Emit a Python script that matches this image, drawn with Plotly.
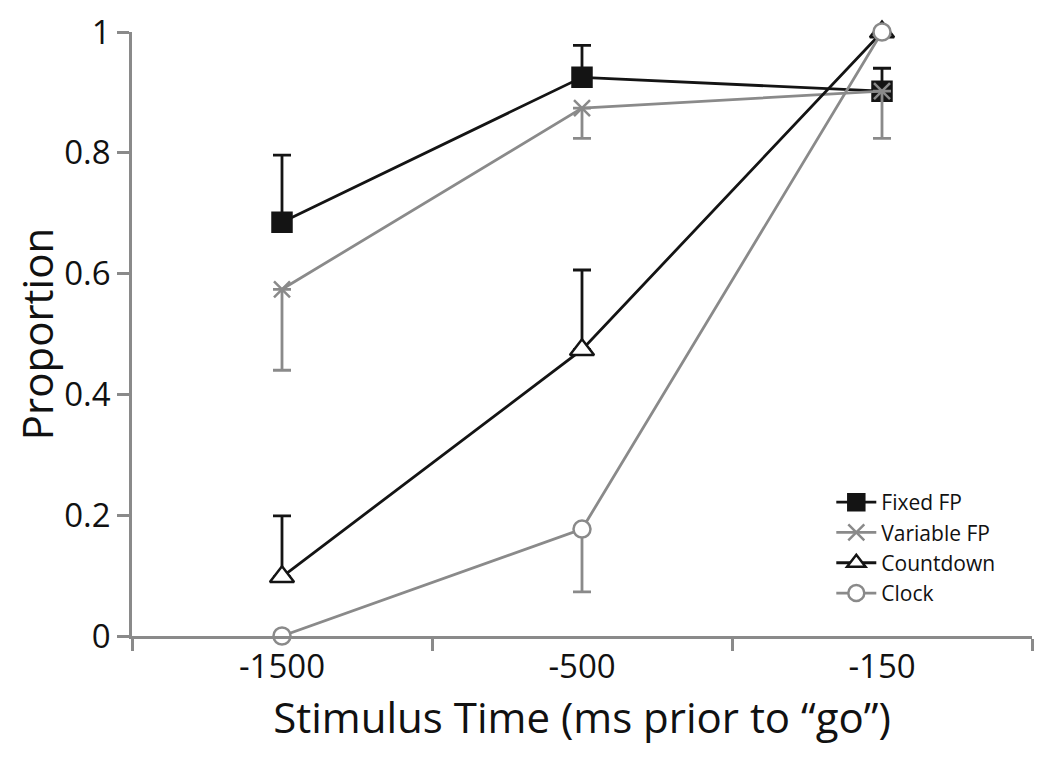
import plotly.graph_objects as go

categories = ["-1500", "-500", "-150"]

fixed_fp = [0.685, 0.925, 0.902]
fixed_fp_err_up = [0.111, 0.053, 0.038]

variable_fp = [0.574, 0.874, 0.902]
variable_fp_err_down = [0.134, 0.050, 0.078]

countdown = [0.098, 0.474, 1.0]
countdown_err_up = [0.101, 0.132, 0.0]

clock = [0.0, 0.177, 1.0]
clock_err_down = [0.0, 0.104, 0.0]

BLACK = "#141414"
GRAY = "#8a8a8a"
FONT = "Open Sans"

fig = go.Figure()

def add(name, y, up, down, color, symbol, size, fill, lw=2.8):
    fig.add_trace(go.Scatter(
        x=categories, y=y, name=name, mode="lines+markers",
        line=dict(color=color, width=lw),
        marker=dict(symbol=symbol, size=size, color=fill,
                    line=dict(color=color, width=2.5)),
        error_y=dict(type="data", symmetric=False,
                     array=up, arrayminus=down,
                     color=color, thickness=2.8, width=9),
        cliponaxis=False,
    ))

add("Fixed FP", fixed_fp, fixed_fp_err_up, [0, 0, 0], BLACK, "square", 19, BLACK)
add("Variable FP", variable_fp, [0, 0, 0], variable_fp_err_down, GRAY, "x-thin", 16, GRAY)
add("Countdown", countdown, countdown_err_up, [0, 0, 0], BLACK, "triangle-up", 21, "white")
add("Clock", clock, [0, 0, 0], clock_err_down, GRAY, "circle", 17, "white")

fig.update_layout(
    width=1042, height=756,
    margin=dict(l=124, r=18, t=24, b=128),
    plot_bgcolor="white", paper_bgcolor="white",
    font=dict(family=FONT, color="#111111"),
    showlegend=True,
    legend=dict(x=0.777, y=0.255, xanchor="left", yanchor="top",
                font=dict(size=21, family=FONT), bgcolor="rgba(0,0,0,0)",
                tracegroupgap=0, itemwidth=40),
    xaxis=dict(
        type="category", range=[-0.5, 2.5], automargin=False,
        showline=True, linecolor=GRAY, linewidth=2.5,
        ticks="outside", tickson="boundaries", ticklen=12, tickwidth=2.5,
        tickcolor=GRAY, showgrid=False, zeroline=False,
        tickfont=dict(size=33, family=FONT),
        title=dict(text="Stimulus Time (ms prior to \u201cgo\u201d)",
                   font=dict(size=42, family=FONT)),
    ),
    yaxis=dict(
        range=[0, 1], tickvals=[0, 0.2, 0.4, 0.6, 0.8, 1.0], automargin=False,
        showline=True, linecolor=GRAY, linewidth=2.5,
        ticks="outside", ticklen=12, tickwidth=2.5, tickcolor=GRAY,
        showgrid=False, zeroline=False,
        tickfont=dict(size=33, family=FONT),
        title=dict(text="Proportion", font=dict(size=42, family=FONT)),
    ),
)

fig.write_html("out.html")
